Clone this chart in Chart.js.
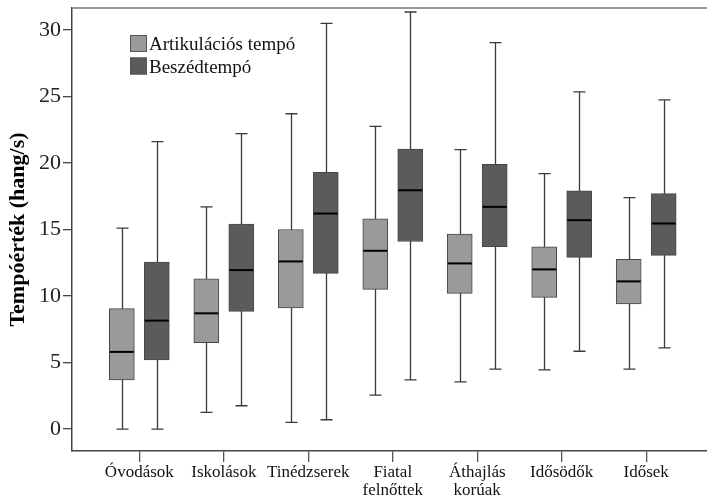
<!DOCTYPE html>
<html>
<head>
<meta charset="utf-8">
<script src="https://cdn.jsdelivr.net/npm/chart.js@4/dist/chart.umd.min.js"></script>
<style>
  html, body { margin: 0; padding: 0; background: #fff; }
  #wrap { width: 707px; height: 497px; }
</style>
</head>
<body>
<div id="wrap"><canvas id="tempoChart" width="707" height="497"></canvas></div>
<script>
// kategóriák (korcsoportok)
const categories = [
    ['Óvodások'],
    ['Iskolások'],
    ['Tinédzserek'],
    ['Fiatal', 'felnőttek'],
    ['Áthajlás', 'korúak'],
    ['Idősödők'],
    ['Idősek'],
];
const yTicks = [0, 5, 10, 15, 20, 25, 30];

// Artikulációs tempó
const artMin = [0.0, 1.25, 0.5, 2.55, 3.55, 4.45, 4.5];
const artQ1 = [3.7, 6.5, 9.1, 10.5, 10.2, 9.9, 9.4];
const artMed = [5.8, 8.7, 12.6, 13.4, 12.45, 12.0, 11.1];
const artQ3 = [9.05, 11.3, 15.0, 15.8, 14.65, 13.7, 12.75];
const artMax = [15.1, 16.7, 23.7, 22.75, 21.0, 19.2, 17.4];

// Beszédtempó
const beszMin = [0.0, 1.75, 0.7, 3.7, 4.5, 5.85, 6.1];
const beszQ1 = [5.2, 8.85, 11.7, 14.1, 13.7, 12.9, 13.05];
const beszMed = [8.15, 11.95, 16.2, 17.95, 16.7, 15.7, 15.45];
const beszQ3 = [12.55, 15.4, 19.3, 21.05, 19.9, 17.9, 17.7];
const beszMax = [21.6, 22.2, 30.5, 31.35, 29.05, 25.35, 24.75];

const series = [
    { label: 'Artikulációs tempó', color: '#9a9a9a', shift: -0.207,
      min: artMin, q1: artQ1, med: artMed, q3: artQ3, max: artMax },
    { label: 'Beszédtempó', color: '#5b5b5b', shift: 0.207,
      min: beszMin, q1: beszQ1, med: beszMed, q3: beszQ3, max: beszMax },
];

const serif = "'Liberation Serif', 'DejaVu Serif', serif";

const boxPlugin = {
    id: 'boxParts',
    beforeDatasetsDraw(chart) {
        const { ctx, scales: { x, y } } = chart;
        ctx.save();
        ctx.strokeStyle = '#3a3a3a';
        ctx.lineWidth = 1.3;
        series.forEach((s) => {
            categories.forEach((_, i) => {
                const px = Math.round(x.getPixelForValue(i + s.shift)) + 0.5;
                const top = y.getPixelForValue(s.max[i]);
                const bot = y.getPixelForValue(s.min[i]);
                ctx.beginPath();
                ctx.moveTo(px, top);
                ctx.lineTo(px, bot);
                ctx.moveTo(px - 6, top);
                ctx.lineTo(px + 6, top);
                ctx.moveTo(px - 6, bot);
                ctx.lineTo(px + 6, bot);
                ctx.stroke();
            });
        });
        ctx.restore();
    },
    afterDatasetsDraw(chart) {
        const { ctx, chartArea, scales: { x, y } } = chart;
        ctx.save();
        ctx.strokeStyle = '#000';
        ctx.lineWidth = 2;
        series.forEach((s) => {
            categories.forEach((_, i) => {
                const px = x.getPixelForValue(i + s.shift);
                const py = y.getPixelForValue(s.med[i]);
                ctx.beginPath();
                ctx.moveTo(px - 12, py);
                ctx.lineTo(px + 12, py);
                ctx.stroke();
            });
        });

        // felső keret
        ctx.strokeStyle = '#777';
        ctx.lineWidth = 1.5;
        ctx.beginPath();
        ctx.moveTo(chartArea.left, chartArea.top);
        ctx.lineTo(chartArea.right, chartArea.top);
        ctx.stroke();

        // jelmagyarázat
        ctx.font = '19px ' + serif;
        ctx.textBaseline = 'alphabetic';
        ctx.textAlign = 'left';
        series.forEach((s, k) => {
            const top = 35 + k * 22.5;
            ctx.fillStyle = s.color;
            ctx.fillRect(130, top, 17, 17);
            ctx.strokeStyle = '#555';
            ctx.lineWidth = 1;
            ctx.strokeRect(130.5, top + 0.5, 16, 16);
            ctx.fillStyle = '#111';
            ctx.fillText(s.label, 149, top + 15);
        });
        ctx.restore();
    },
};

new Chart(document.getElementById('tempoChart'), {
    type: 'bar',
    data: {
        datasets: series.map((s) => ({
            label: s.label,
            data: categories.map((_, i) => ({ x: i + s.shift, y: [s.q1[i], s.q3[i]] })),
            backgroundColor: s.color,
            borderColor: '#474747',
            borderWidth: 1,
            borderSkipped: false,
            barThickness: 25,
            grouped: false,
        })),
    },
    options: {
        responsive: false,
        animation: false,
        layout: { padding: { top: 8, left: 0, right: 0, bottom: 0 } },
        plugins: {
            legend: { display: false },
            tooltip: { enabled: false },
        },
        scales: {
            x: {
                type: 'linear',
                offset: false,
                min: -0.797,
                max: 6.72,
                afterBuildTicks: (scale) => {
                    scale.ticks = categories.map((_, i) => ({ value: i }));
                },
                afterFit: (scale) => {
                    scale.height = 46;
                    scale.paddingLeft = 0;
                    scale.paddingRight = 0;
                },
                grid: {
                    offset: false,
                    drawOnChartArea: false,
                    tickLength: 11,
                    color: '#555',
                    lineWidth: 1.3,
                },
                border: { color: '#444', width: 1.5 },
                ticks: {
                    autoSkip: false,
                    maxRotation: 0,
                    padding: 2,
                    color: '#111',
                    font: { family: serif, size: 17, lineHeight: 1.05 },
                    callback: (v) => categories[v],
                },
            },
            y: {
                min: -1.65,
                max: 31.65,
                afterBuildTicks: (scale) => {
                    scale.ticks = yTicks.map((v) => ({ value: v }));
                },
                afterFit: (scale) => {
                    scale.width = 72;
                    scale.paddingTop = 0;
                    scale.paddingBottom = 0;
                },
                grid: {
                    drawOnChartArea: false,
                    tickLength: 9,
                    color: '#444',
                    lineWidth: 1.3,
                },
                border: { color: '#444', width: 1.5 },
                ticks: {
                    padding: 2,
                    color: '#222',
                    font: { family: serif, size: 22 },
                },
                title: {
                    display: true,
                    text: 'Tempóérték (hang/s)',
                    color: '#000',
                    font: { family: serif, size: 22, weight: 'bold' },
                    padding: { top: 5, bottom: 0 },
                },
            },
        },
    },
    plugins: [boxPlugin],
});
</script>
</body>
</html>
